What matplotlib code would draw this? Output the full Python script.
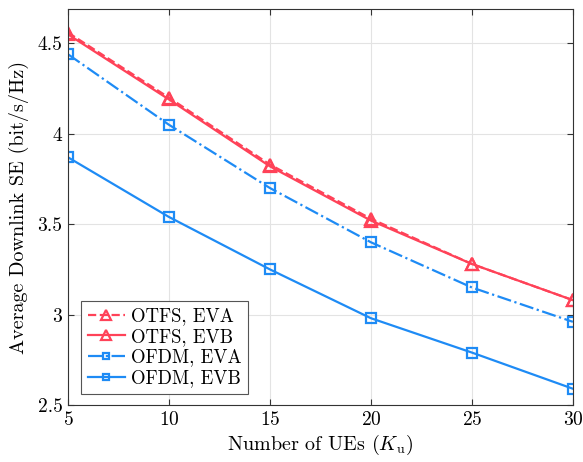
import matplotlib
matplotlib.use("Agg")
import matplotlib.pyplot as plt

# ===============================
# DATA
# ===============================
num_ues = [5, 10, 15, 20, 25, 30]
otfs_eva = [4.56, 4.20, 3.83, 3.53, 3.28, 3.08]
otfs_evb = [4.55, 4.19, 3.82, 3.52, 3.28, 3.08]
ofdm_eva = [4.44, 4.05, 3.70, 3.40, 3.15, 2.96]
ofdm_evb = [3.87, 3.54, 3.25, 2.98, 2.79, 2.59]

x_ticks = [5, 10, 15, 20, 25, 30]
y_ticks = [2.5, 3, 3.5, 4, 4.5]
y_tick_labels = ["2.5", "3", "3.5", "4", "4.5"]

RED = "#FF4258"
BLUE = "#1E8BF5"

plt.rcParams["font.family"] = "serif"
plt.rcParams["font.serif"] = ["cmr10"]
plt.rcParams["mathtext.fontset"] = "cm"
plt.rcParams["axes.formatter.use_mathtext"] = True

fig = plt.figure(figsize=(5.83, 4.62), dpi=100)
ax = fig.add_axes([0.1166, 0.1234, 0.866, 0.857])

ax.plot(num_ues, otfs_eva, "--^", color=RED, lw=1.6, ms=9, mfc="none", mew=1.6, label="OTFS, EVA")
ax.plot(num_ues, otfs_evb, "-^", color=RED, lw=1.6, ms=9, mfc="none", mew=1.6, label="OTFS, EVB")
ax.plot(num_ues, ofdm_eva, "-.s", color=BLUE, lw=1.6, ms=6.5, mfc="none", mew=1.6, label="OFDM, EVA")
ax.plot(num_ues, ofdm_evb, "-s", color=BLUE, lw=1.6, ms=6.5, mfc="none", mew=1.6, label="OFDM, EVB")

ax.set_xlim(5, 30)
ax.set_ylim(2.5, 4.69)
ax.set_xticks(x_ticks)
ax.set_yticks(y_ticks)
ax.set_yticklabels(y_tick_labels)
ax.tick_params(direction="in", top=True, right=True, labelsize=14, length=4, color="#333333", pad=4)
ax.grid(True, color="#E3E3E3", lw=0.8)
ax.set_axisbelow(True)
for s in ax.spines.values():
    s.set_color("#333333")
    s.set_linewidth(0.8)

ax.set_xlabel(r"Number of UEs ($K_\mathrm{u}$)", fontsize=14.5, labelpad=3)
ax.set_ylabel("Average Downlink SE (bit/s/Hz)", fontsize=14.5, labelpad=6)

leg = ax.legend(loc="lower left", fontsize=13.5, fancybox=False, edgecolor="#555555",
                framealpha=1, handlelength=2.0, borderpad=0.35, labelspacing=0.15,
                handletextpad=0.3, borderaxespad=0, markerscale=0.75,
                bbox_to_anchor=(0.026, 0.028))
leg.get_frame().set_linewidth(0.8)

fig.savefig("out.png", dpi=100)
